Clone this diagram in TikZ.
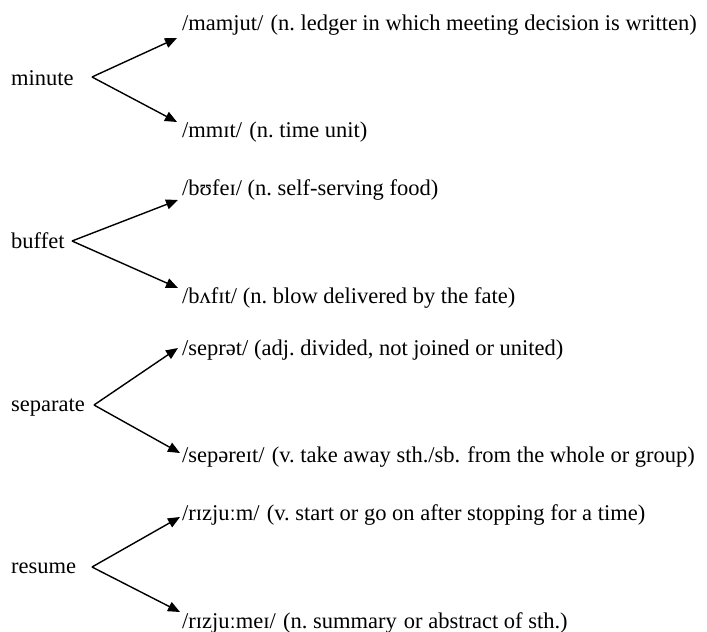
\documentclass[tikz,border=0pt]{standalone}
\usepackage{fontspec}
\setmainfont{Liberation Serif}
\usetikzlibrary{arrows.meta}
\frenchspacing
\newcommand{\dsp}{\ \hspace{1.5pt}}
\tikzset{
  word/.style={anchor=base west, inner sep=0pt, font=\fontsize{22.5}{26}\selectfont},
  sense/.style={anchor=base west, inner sep=0pt, font=\fontsize{22.5}{26}\selectfont},
  arr/.style={-{Triangle[length=12pt,width=10pt]}, line width=1.4pt, black}
}
\begin{document}
\begin{tikzpicture}[x=1pt,y=-1pt]
\useasboundingbox (0,0) rectangle (707,632);
% minute
\node[word] (w1) at (11,85) {minute};
\node[sense] (s1a) at (182,30) {/mamjut/\dsp(n. ledger in which meeting decision is written)};
\node[sense] (s1b) at (182,137) {/mmɪt/\dsp(n. time unit)};
\coordinate (b1) at (92,77);
\coordinate (t1a) at (177,38);
\coordinate (t1b) at (177,122);
\draw[arr] (b1) -- (t1a);
\draw[arr] (b1) -- (t1b);
% buffet
\node[word] (w2) at (11,248) {buffet};
\node[sense] (s2a) at (182,195) {/bʊfeɪ/ (n. self-serving food)};
\node[sense] (s2b) at (182,303) {/bʌfɪt/ (n. blow delivered by the fate)};
\coordinate (b2) at (72,241);
\coordinate (t2a) at (178,200);
\coordinate (t2b) at (178,288);
\draw[arr] (b2) -- (t2a);
\draw[arr] (b2) -- (t2b);
% separate
\node[word] (w3) at (11,411) {separate};
\node[sense] (s3a) at (182,355) {/seprət/ (adj. divided, not joined or united)};
\node[sense] (s3b) at (182,462) {/sepəreɪt/\dsp(v. take away sth./sb.\dsp from the whole or group)};
\coordinate (b3) at (94,405);
\coordinate (t3a) at (178,348);
\coordinate (t3b) at (180,453);
\draw[arr] (b3) -- (t3a);
\draw[arr] (b3) -- (t3b);
% resume
\node[word] (w4) at (11,573) {resume};
\node[sense] (s4a) at (182,520) {/rɪzjuːm/\dsp(v. start or go on after stopping for a time)};
\node[sense] (s4b) at (182,628) {/rɪzjuːmeɪ/\dsp(n. summary\dsp or abstract of sth.)};
\coordinate (b4) at (92,567);
\coordinate (t4a) at (180,517);
\coordinate (t4b) at (180,612);
\draw[arr] (b4) -- (t4a);
\draw[arr] (b4) -- (t4b);
\end{tikzpicture}
\end{document}
